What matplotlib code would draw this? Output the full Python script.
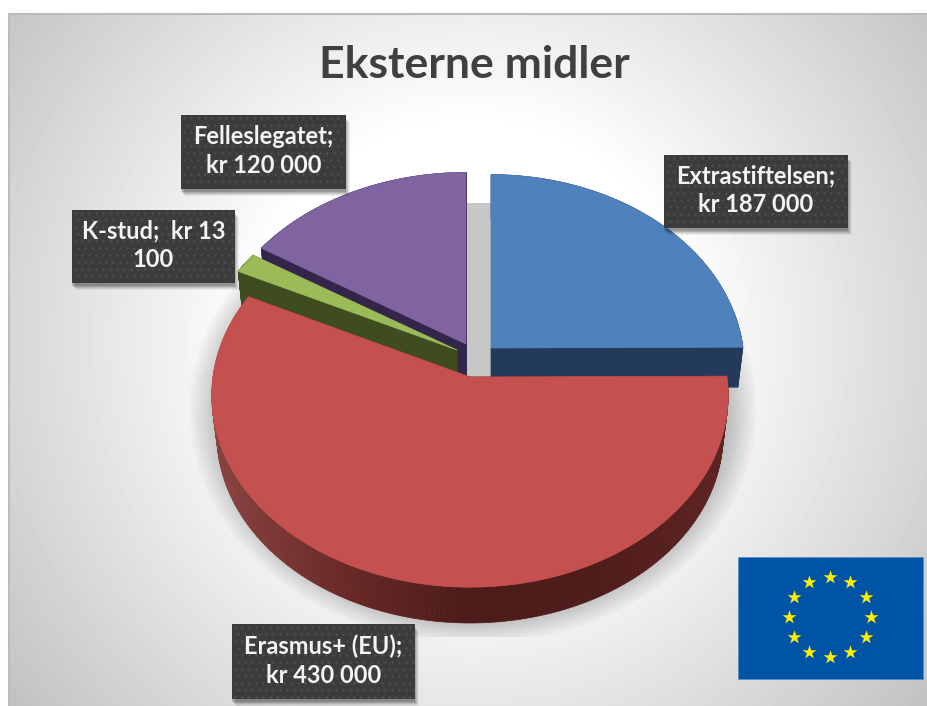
import numpy as np
import matplotlib
matplotlib.use("Agg")
import matplotlib.pyplot as plt
from matplotlib.patches import Polygon, Rectangle
from matplotlib.collections import PolyCollection
from matplotlib.colors import LinearSegmentedColormap

title = "Eksterne midler"
names = ["Extrastiftelsen", "Erasmus+ (EU)", "K-stud", "Felleslegatet"]
values = [187000, 430000, 13100, 120000]
labels = ["Extrastiftelsen;\nkr 187 000", "Erasmus+ (EU);\nkr 430 000",
          "K-stud;  kr 13\n100", "Felleslegatet;\nkr 120 000"]

top_colors = ["#4f81bd", "#c4514f", "#9bbb59", "#8064a2"]
wall_colors = ["#243a5a", "#5a2120", "#3f4c20", "#33264a"]

# where each slice sits (px), the pie is pulled apart
apex_x = [491, 470, 457, 466]
apex_y = [348, 377, 350, 344]
rad_x = [252, 257, 254, 255]
rad_y = [190, 190, 186, 188]
persp = 0.096
depth = 40
shrink = 0.98

# label boxes: left, top, right, bottom
boxes = [(664, 155, 848, 228), (232, 624, 415, 699), (72, 210, 235, 283), (181, 115, 346, 189)]

W, H = 928, 706
fig = plt.figure(figsize=(W / 100, H / 100), dpi=100)
ax = fig.add_axes([0, 0, 1, 1])
ax.set_axis_off()
plt.rcParams['font.family'] = ['Lato', 'DejaVu Sans']

# background
xx, yy = np.meshgrid(np.arange(9, W) + .5, np.arange(14, H) + .5)
dist = np.hypot(xx - 470, yy - 340)
bg = np.clip(255 - 0.165 * (dist - 215), 0, 255) / 255
ax.imshow(bg, cmap="gray", vmin=0, vmax=1, extent=(9, W, H, 14), zorder=0, aspect="auto")
ax.plot([9, 9, W], [H, 14, 14], color="#bcbcbc", lw=1.5, zorder=1)

# shadow under the pie, cut off top and bottom like the original
r = np.hypot((xx - 473) / 285, (yy - 410) / 235)
shade = np.zeros(xx.shape + (4,))
shade[..., 3] = 0.22 * np.clip((1 - r) / 0.1, 0, 1)
shade[(yy < 203) | (yy > 637), 3] = 0
ax.imshow(shade, extent=(9, W, H, 14), zorder=1, aspect="auto")


def project(i, ang):
    u, v = np.sin(ang), np.cos(ang)
    d = 1 + persp * v
    return apex_x[i] + rad_x[i] * u / d, apex_y[i] - rad_y[i] * v / d


def lower(i, x, y):
    return apex_x[i] + (x - apex_x[i]) * shrink, apex_y[i] + (y - apex_y[i]) * shrink + depth


ends = np.cumsum(values) / np.sum(values) * 2 * np.pi
starts = np.r_[0, ends[:-1]]
red_wall = LinearSegmentedColormap.from_list("w", ["#8a4240", "#6a2a28", "#4c1b1a", "#4f1c1b", "#5c2321"])

# painted back to front
for z, i in enumerate([0, 3, 2, 1]):
    ang = np.linspace(starts[i], ends[i], 200)
    x, y = project(i, ang)
    lx, ly = lower(i, x, y)
    ax0, ay0 = apex_x[i], apex_y[i]
    bx0, by0 = lower(i, ax0, ay0)
    zo = 3 + z

    # cut faces
    for k in [0, -1]:
        ax.add_patch(Polygon([(ax0, ay0), (x[k], y[k]), (lx[k], ly[k]), (bx0, by0)],
                             fc=wall_colors[i], ec=wall_colors[i], lw=.5, zorder=zo))
    # rim
    quads = [[(x[k], y[k]), (x[k + 1], y[k + 1]), (lx[k + 1], ly[k + 1]), (lx[k], ly[k])]
             for k in range(len(x) - 1)]
    if i == 1:
        t = np.clip((x[:-1] - 213) / 515, 0, 1)
        cols = red_wall(t)
    else:
        cols = wall_colors[i]
    ax.add_collection(PolyCollection(quads, facecolors=cols, edgecolors=cols, linewidths=.5, zorder=zo))
    # top
    ax.add_patch(Polygon(np.c_[np.r_[ax0, x], np.r_[ay0, y]], fc=top_colors[i], ec=top_colors[i],
                         lw=.5, zorder=zo + .5))

ax.text(474, 65, title, fontsize=32, fontweight="bold", color="#404040", ha="center", va="center", zorder=20)

# data labels
for lab, (l, t, rr, b) in zip(labels, boxes):
    for off, al in [(7, .05), (6, .07), (5, .09), (4, .12), (3, .15)]:
        ax.add_patch(Rectangle((l + off - 3, t + off), rr - l, b - t, fc="black", ec="none", alpha=al, zorder=10))
    ax.add_patch(Rectangle((l, t), rr - l, b - t, fc="#3c3c3c", ec="none", zorder=11))
    gx, gy = np.meshgrid(np.arange(l + 3, rr - 1, 7.0), np.arange(t + 3, b - 1, 7.0))
    gx[1::2] += 3.5
    keep = gx < rr - 1
    ax.scatter(gx[keep], gy[keep], s=2.2, color="#565656", linewidths=0, zorder=12)
    ax.text((l + rr) / 2, (t + b) / 2 - 1, lab, fontsize=17, fontweight="bold", color="#f4f4f4",
            ha="center", va="center", linespacing=1.3, zorder=13)

# EU flag
ax.add_patch(Rectangle((738, 557), 185, 122, fc="#0054a5", ec="#5b8fc4", lw=.6, zorder=5))
star_ang = np.arange(12) * np.pi / 6
ax.scatter(830 + 41 * np.sin(star_ang), 617 - 40 * np.cos(star_ang), marker="*", s=110, color="#ffee00",
           linewidths=0, zorder=6)

ax.set_xlim(0, W)
ax.set_ylim(H, 0)
fig.savefig("out.png", dpi=100, facecolor="white")
